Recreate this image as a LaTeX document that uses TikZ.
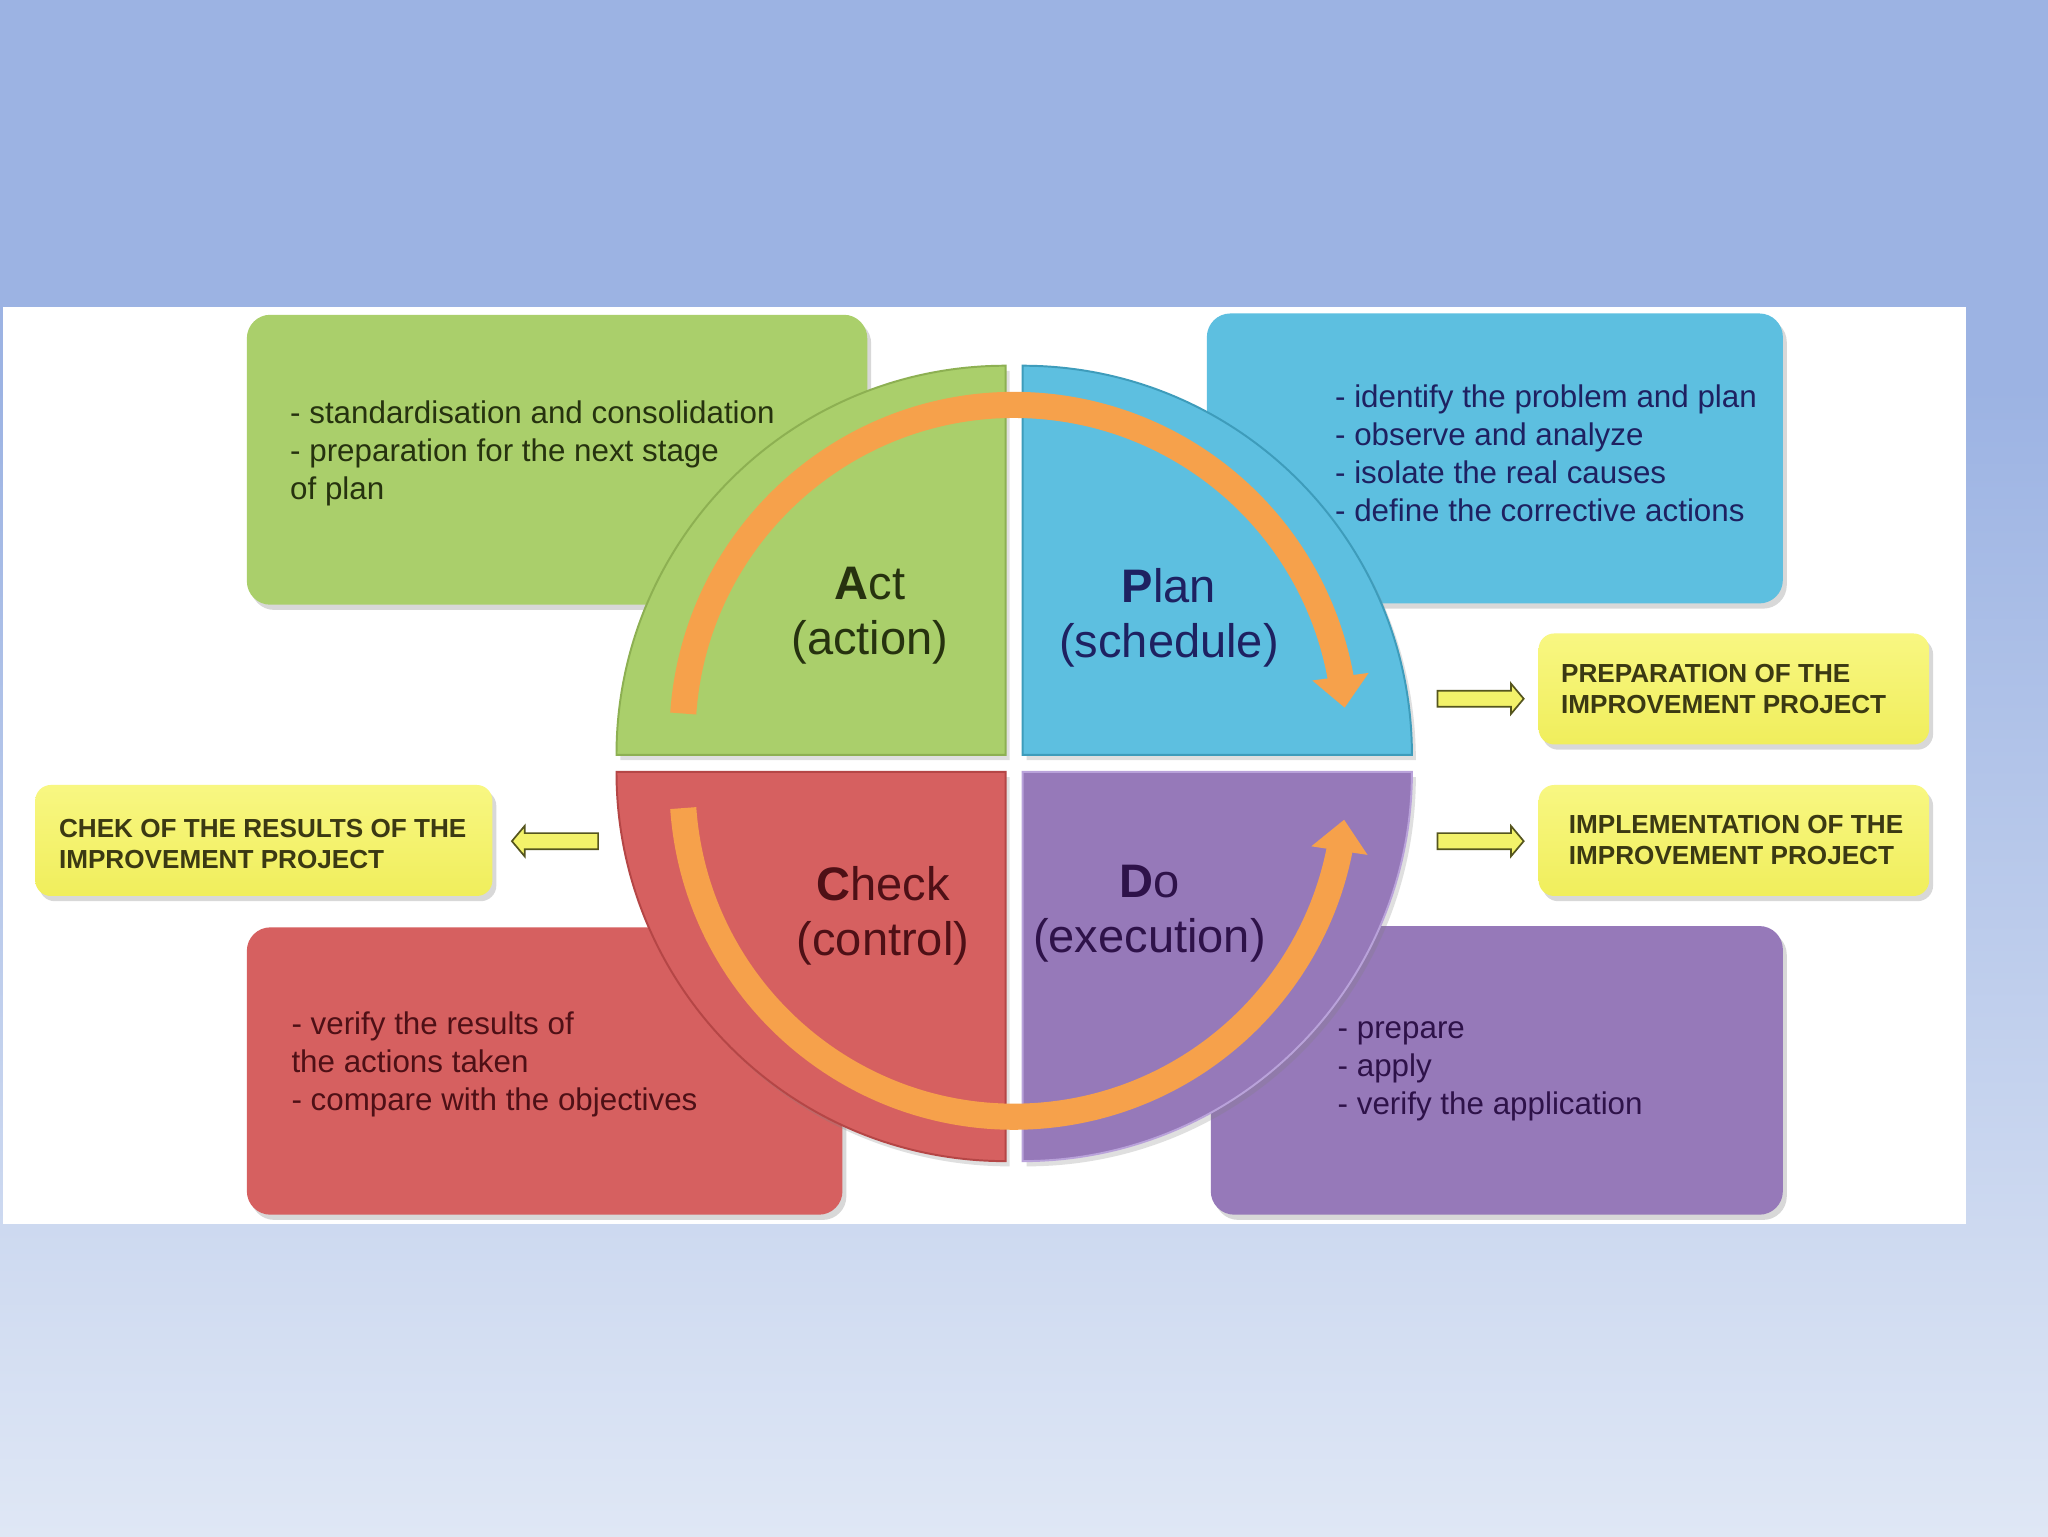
\documentclass[tikz,border=0pt]{standalone}
\usepackage{fontspec}
\setmainfont{Liberation Sans}
\usetikzlibrary{shadows,shapes.arrows,arrows.meta,bending}
\definecolor{bgtop}{HTML}{9CB3E3}
\definecolor{bgbot}{HTML}{DFE7F5}
\definecolor{actc}{HTML}{AACF6B}
\definecolor{actd}{HTML}{8DB052}
\definecolor{planc}{HTML}{5DBFE0}
\definecolor{pland}{HTML}{3E9CBB}
\definecolor{checkc}{HTML}{D66060}
\definecolor{checkd}{HTML}{B54646}
\definecolor{doc}{HTML}{9679B9}
\definecolor{dod}{HTML}{B9A2DA}
\definecolor{yelc}{HTML}{F3F26A}
\definecolor{yeltop}{HTML}{F8F782}
\definecolor{yelbot}{HTML}{F0EE5C}
\definecolor{orng}{HTML}{F6A14B}
\definecolor{acttx}{HTML}{26320F}
\definecolor{plantx}{HTML}{1E2161}
\definecolor{checktx}{HTML}{4E1016}
\definecolor{dotx}{HTML}{2E1249}
\definecolor{yeltx}{HTML}{3B3913}
\definecolor{arrline}{HTML}{55551E}
\tikzset{
  box/.style={rectangle, rounded corners=18pt, inner sep=0pt,
    drop shadow={shadow xshift=3pt, shadow yshift=-4pt, opacity=.3}},
  ybox/.style={box, rounded corners=12pt, top color=yeltop, bottom color=yelbot},
  quad/.style={line width=1.5pt,
    drop shadow={shadow xshift=3pt, shadow yshift=-4pt, opacity=.25}},
  orarc/.style={draw=orng, line width=20pt, -{Triangle[width=42pt,length=24pt]}},
  lbl/.style={anchor=north, align=center, inner sep=0pt, font=\fontsize{36}{42}\selectfont},
  btxt/.style={anchor=north west, align=left, inner sep=0pt, font=\fontsize{24}{29}\selectfont},
  ytxt/.style={anchor=north west, align=left, inner sep=0pt, text=yeltx, font=\bfseries\fontsize{20}{24}\selectfont},
  sarrow/.style={single arrow, draw=arrline, fill=yelc, line width=1.3pt,
    minimum height=66pt, inner xsep=0pt, inner ysep=5.5pt,
    single arrow head extend=5.5pt, single arrow tip angle=100}
}
\begin{document}
\begin{tikzpicture}[x=1pt,y=1pt]
\useasboundingbox (0,0) rectangle (1568,1176);
\fill[bgtop] (0,0) rectangle (1568,1176);
\shade[top color=bgtop, bottom color=bgbot] (0,0) rectangle (1568,880);
\fill[white] (2,239) rectangle (1505,941);

% description boxes
\node[box, fill=actc, minimum width=475pt, minimum height=222pt] (actbox) at (426.5,824) {};
\node[box, fill=planc, minimum width=441pt, minimum height=222pt] (planbox) at (1144.5,825) {};
\node[box, fill=checkc, minimum width=456pt, minimum height=220pt] (checkbox) at (417,356) {};
\node[box, fill=doc, minimum width=438pt, minimum height=221pt] (dobox) at (1146,356.5) {};

% yellow boxes
\node[ybox, minimum width=299pt, minimum height=85pt] (prepbox) at (1327.5,648.5) {};
\node[ybox, minimum width=299pt, minimum height=85pt] (implbox) at (1327.5,532.5) {};
\node[ybox, minimum width=350pt, minimum height=85pt] (chekbox) at (202,532.5) {};

% quadrants
\filldraw[quad, fill=actc, draw=actd] (770,598) -- (472,598) arc[start angle=180, end angle=90, radius=298] -- cycle;
\filldraw[quad, fill=planc, draw=pland] (783,598) -- (783,896) arc[start angle=90, end angle=0, radius=298] -- cycle;
\filldraw[quad, fill=checkc, draw=checkd] (770,585) -- (472,585) arc[start angle=180, end angle=270, radius=298] -- cycle;
\filldraw[quad, fill=doc, draw=dod] (783,585) -- (1081,585) arc[start angle=0, end angle=-90, radius=298] -- cycle;

% orange cycle arrows
\coordinate (topstart) at (523.1,629.7);
\draw[orarc] (topstart) arc[start angle=176, end angle=5, radius=254];
\coordinate (botstart) at (523.1,557.3);
\draw[orarc] (botstart) arc[start angle=184, end angle=354, radius=254];

% quadrant labels
\node[lbl, text=acttx] (actlbl) at (666,746.4) {\strut\textbf{A}ct\\(action)};
\node[lbl, text=plantx] (planlbl) at (895,744.4) {\strut\textbf{P}lan\\(schedule)};
\node[lbl, text=checktx] (checklbl) at (676,516.4) {\strut\textbf{C}heck\\(control)};
\node[lbl, text=dotx] (dolbl) at (880,518.4) {\strut\textbf{D}o\\(execution)};

% box texts
\node[btxt, text=acttx] (acttxt) at (222,872.3) {\strut- standardisation and consolidation\\- preparation for the next stage\\of plan};
\node[btxt, text=plantx] (plantxt) at (1022,884.3) {\strut- identify the problem and plan\\- observe and analyze\\- isolate the real causes\\- define the corrective actions};
\node[btxt, text=checktx] (checktxt) at (223,404.3) {\strut- verify the results of\\the actions taken\\- compare with the objectives};
\node[btxt, text=dotx] (dotxt) at (1024,401.3) {\strut- prepare\\- apply\\- verify the application};

% yellow texts
\node[ytxt] (preptxt) at (1195,670.8) {\strut PREPARATION OF THE\\IMPROVEMENT PROJECT};
\node[ytxt] (impltxt) at (1201,554.8) {\strut IMPLEMENTATION OF THE\\IMPROVEMENT PROJECT};
\node[ytxt] (chektxt) at (45,551.8) {\strut CHEK OF THE RESULTS OF THE\\IMPROVEMENT PROJECT};

% small arrows
\node[sarrow] (preparr) at (1131,641) {};
\node[sarrow] (implarr) at (1131,532) {};
\node[sarrow, shape border rotate=180] (chekarr) at (427.5,532) {};
\end{tikzpicture}
\end{document}
